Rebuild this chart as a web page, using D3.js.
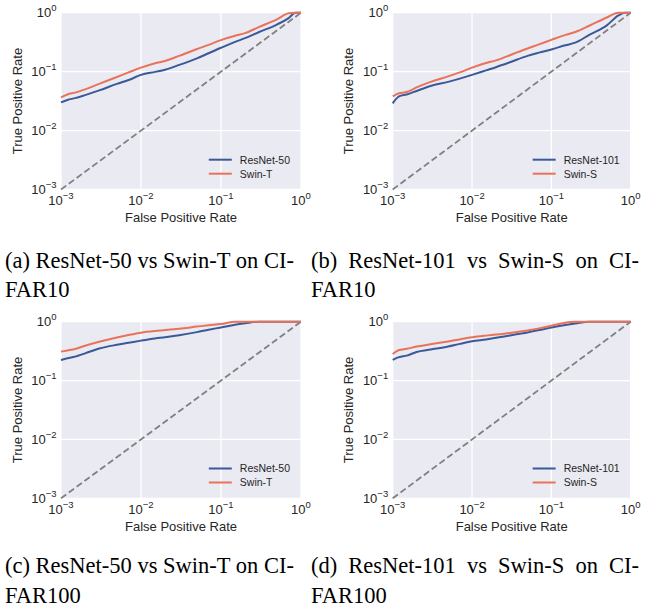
<!DOCTYPE html>
<html>
<head>
<meta charset="utf-8">
<script src="https://cdn.jsdelivr.net/npm/d3@7"></script>
<style>
  html, body { margin: 0; padding: 0; background: #fff; }
  svg { display: block; }
</style>
</head>
<body>
<svg id="fig" width="650" height="613"></svg>
<script>
// shared false positive rate grid (log spaced)
const FPR = [0.001, 0.0012, 0.0015, 0.002, 0.003, 0.005, 0.007, 0.01, 0.015, 0.02,
  0.03, 0.05, 0.07, 0.1, 0.15, 0.2, 0.3, 0.5, 0.7, 0.85, 1.0];

// (a) CIFAR10, ResNet-50 vs Swin-T
const TPR_R50_C10 = [0.030, 0.033, 0.0355, 0.040, 0.048, 0.062, 0.072, 0.088, 0.099, 0.108,
  0.130, 0.168, 0.205, 0.254, 0.32, 0.37, 0.47, 0.63, 0.81, 1.0, 1.0];
const TPR_SWT_C10 = [0.0365, 0.041, 0.044, 0.050, 0.062, 0.081, 0.097, 0.117, 0.139, 0.152,
  0.185, 0.242, 0.285, 0.342, 0.405, 0.45, 0.575, 0.77, 0.98, 1.0, 1.0];
// (b) CIFAR10, ResNet-101 vs Swin-S
const TPR_R101_C10 = [0.029, 0.038, 0.041, 0.047, 0.057, 0.067, 0.076, 0.088, 0.105, 0.119,
  0.144, 0.185, 0.21, 0.238, 0.28, 0.31, 0.42, 0.61, 0.90, 1.0, 1.0];
const TPR_SWS_C10 = [0.038, 0.043, 0.045, 0.054, 0.067, 0.083, 0.097, 0.117, 0.14, 0.155,
  0.19, 0.247, 0.29, 0.346, 0.42, 0.47, 0.60, 0.83, 1.0, 1.0, 1.0];
// (c) CIFAR100, ResNet-50 vs Swin-T
const TPR_R50_C100 = [0.224, 0.24, 0.255, 0.29, 0.35, 0.405, 0.438, 0.477, 0.52, 0.545,
  0.59, 0.665, 0.73, 0.80, 0.89, 0.94, 1.0, 1.0, 1.0, 1.0, 1.0];
const TPR_SWT_C100 = [0.31, 0.325, 0.345, 0.39, 0.455, 0.54, 0.595, 0.651, 0.695, 0.72,
  0.76, 0.825, 0.87, 0.913, 1.0, 1.0, 1.0, 1.0, 1.0, 1.0, 1.0];
// (d) CIFAR100, ResNet-101 vs Swin-S
const TPR_R101_C100 = [0.224, 0.25, 0.265, 0.306, 0.337, 0.38, 0.42, 0.464, 0.50, 0.532,
  0.585, 0.657, 0.72, 0.80, 0.88, 0.93, 1.0, 1.0, 1.0, 1.0, 1.0];
const TPR_SWS_C100 = [0.283, 0.33, 0.347, 0.378, 0.414, 0.462, 0.50, 0.542, 0.58, 0.605,
  0.645, 0.71, 0.77, 0.855, 0.96, 1.0, 1.0, 1.0, 1.0, 1.0, 1.0];

const TICKS = [1e-3, 1e-2, 1e-1, 1e0];
const TICK_EXP = ['\u22123', '\u22122', '\u22121', '0'];

const PANELS = [
  { names: ['ResNet-50', 'Swin-T'], tpr: [TPR_R50_C10, TPR_SWT_C10],
    caption: ['(a) ResNet-50 vs Swin-T on CI-', 'FAR10'] },
  { names: ['ResNet-101', 'Swin-S'], tpr: [TPR_R101_C10, TPR_SWS_C10],
    caption: ['(b) ResNet-101 vs Swin-S on CI-', 'FAR10'] },
  { names: ['ResNet-50', 'Swin-T'], tpr: [TPR_R50_C100, TPR_SWT_C100],
    caption: ['(c) ResNet-50 vs Swin-T on CI-', 'FAR100'] },
  { names: ['ResNet-101', 'Swin-S'], tpr: [TPR_R101_C100, TPR_SWS_C100],
    caption: ['(d) ResNet-101 vs Swin-S on CI-', 'FAR100'] },
];

const BLUE = '#3b5998';
const ORANGE = '#e8735a';
const BG = '#eaeaf2';
const TXT = '#262626';
const SANS = '"Liberation Sans", Arial, sans-serif';
const SERIF = '"Liberation Serif", "Times New Roman", serif';

// plot boxes: [left, right], [top, bottom]
const COLS = [[61, 301], [392.7, 630.7]];
const ROWS = [[12.7, 189.5], [321.7, 498.3]];
const CAP_X = [5, 311];
const CAP_W = [null, 328];   // right column first lines are justified a bit wider
const CAP_Y = [[268, 297], [573, 603]];

const svg = d3.select('#fig');

PANELS.forEach((p, i) => {
  const col = i % 2;
  const row = Math.floor(i / 2);
  const [x0, x1] = COLS[col];
  const [y0, y1] = ROWS[row];

  const x = d3.scaleLog().domain([1e-3, 1]).range([x0, x1]);
  const y = d3.scaleLog().domain([1e-3, 1]).range([y1, y0]);

  const g = svg.append('g');

  g.append('rect')
    .attr('x', x0).attr('y', y0)
    .attr('width', x1 - x0).attr('height', y1 - y0)
    .attr('fill', BG);

  // white grid
  g.append('g').selectAll('line').data(TICKS).join('line')
    .attr('x1', d => x(d)).attr('x2', d => x(d))
    .attr('y1', y0).attr('y2', y1)
    .attr('stroke', '#fff').attr('stroke-width', 1.3);
  g.append('g').selectAll('line').data(TICKS).join('line')
    .attr('y1', d => y(d)).attr('y2', d => y(d))
    .attr('x1', x0).attr('x2', x1)
    .attr('stroke', '#fff').attr('stroke-width', 1.3);

  // chance diagonal
  g.append('line')
    .attr('x1', x(1e-3)).attr('y1', y(1e-3))
    .attr('x2', x(1)).attr('y2', y(1))
    .attr('stroke', '#808080').attr('stroke-width', 1.8)
    .attr('stroke-dasharray', '6.5,3.2');

  const line = d3.line()
    .x(d => x(d[0]))
    .y(d => y(d[1]))
    .curve(d3.curveMonotoneX);

  const colors = [BLUE, ORANGE];
  p.tpr.forEach((tpr, k) => {
    g.append('path')
      .datum(FPR.map((f, j) => [f, tpr[j]]))
      .attr('d', line)
      .attr('fill', 'none')
      .attr('stroke', colors[k])
      .attr('stroke-width', 2)
      .attr('stroke-linejoin', 'round');
  });

  // tick labels, 10 with a superscript exponent
  TICKS.forEach((t, k) => {
    const xt = g.append('text')
      .attr('x', x(t)).attr('y', y1 + 15.5)
      .attr('text-anchor', 'middle')
      .attr('font-family', SANS).attr('font-size', 13).attr('fill', TXT);
    xt.append('tspan').text('10');
    xt.append('tspan').attr('dy', -6).attr('font-size', 9.5).text(TICK_EXP[k]);

    const yt = g.append('text')
      .attr('x', x0 - 4.5).attr('y', y(t) + 4.6)
      .attr('text-anchor', 'end')
      .attr('font-family', SANS).attr('font-size', 13).attr('fill', TXT);
    yt.append('tspan').text('10');
    yt.append('tspan').attr('dy', -6).attr('font-size', 9.5).text(TICK_EXP[k]);
  });

  g.append('text')
    .attr('x', (x0 + x1) / 2).attr('y', y1 + 32.5)
    .attr('text-anchor', 'middle')
    .attr('font-family', SANS).attr('font-size', 13).attr('fill', TXT)
    .text('False Positive Rate');

  g.append('text')
    .attr('transform', `translate(${x0 - 39.5},${(y0 + y1) / 2}) rotate(-90)`)
    .attr('text-anchor', 'middle')
    .attr('font-family', SANS).attr('font-size', 13).attr('fill', TXT)
    .text('True Positive Rate');

  // legend, lower right
  const leg = g.append('g');
  const labels = p.names.map((n, k) => leg.append('text')
    .attr('y', y1 - 29.8 + k * 14 + 3.8)
    .attr('font-family', SANS).attr('font-size', 10.5).attr('fill', TXT)
    .text(n));
  const tw = d3.max(labels, t => t.node().getComputedTextLength());
  const textX = x1 - 11 - tw;
  labels.forEach(t => t.attr('x', textX));
  p.names.forEach((n, k) => {
    leg.append('line')
      .attr('x1', textX - 31).attr('x2', textX - 8)
      .attr('y1', y1 - 29.8 + k * 14).attr('y2', y1 - 29.8 + k * 14)
      .attr('stroke', colors[k]).attr('stroke-width', 2);
  });

  // subfigure caption; justified lines get wider word gaps only
  p.caption.forEach((c, k) => {
    const ct = svg.append('text')
      .attr('x', CAP_X[col]).attr('y', CAP_Y[row][k])
      .attr('font-family', SERIF).attr('font-size', 22.5).attr('fill', '#000')
      .text(c);
    if (k === 0 && CAP_W[col]) {
      const natural = ct.node().getComputedTextLength();
      const gaps = c.split(' ').length - 1;
      ct.style('word-spacing', `${Math.max(0, CAP_W[col] - natural) / gaps}px`);
    }
  });
});
</script>
</body>
</html>
